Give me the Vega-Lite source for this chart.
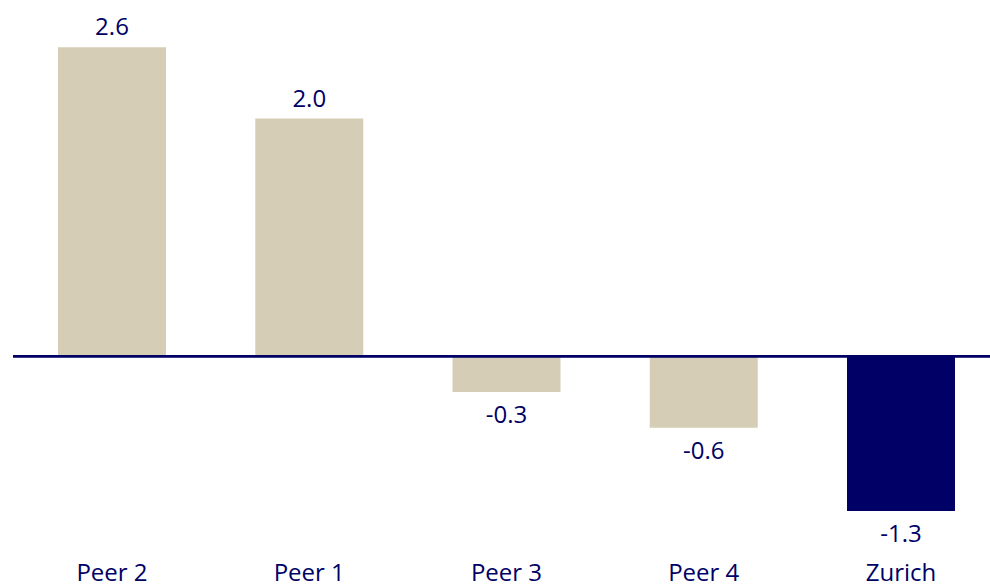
{
  "$schema": "https://vega.github.io/schema/vega-lite/v6.json",
  "autosize": {"type": "none"},
  "padding": {"left": 13, "top": 0, "right": 0, "bottom": 40},
  "width": 977,
  "height": 546,
  "background": "white",
  "config": {
    "view": {"stroke": null},
    "font": "Open Sans",
    "locale": {"number": {"decimal": ".", "thousands": ",", "grouping": [3], "currency": ["$", ""], "minus": "-"}}
  },
  "data": {"values": [
    {"name": "Peer 2", "value": 2.6, "type": "peer"},
    {"name": "Peer 1", "value": 2.0, "type": "peer"},
    {"name": "Peer 3", "value": -0.3, "type": "peer"},
    {"name": "Peer 4", "value": -0.6, "type": "peer"},
    {"name": "Zurich", "value": -1.3, "type": "zurich"}
  ]},
  "encoding": {
    "x": {
      "field": "name", "type": "nominal", "sort": null,
      "scale": {"paddingInner": 0.4525, "paddingOuter": 0.2028, "align": 0.5625},
      "axis": {"title": null, "domain": false, "ticks": false, "labelAngle": 0, "labelFontSize": 24, "labelColor": "#000066", "labelPadding": 15, "labelFont": "Open Sans"}
    }
  },
  "layer": [
    {
      "mark": {"type": "bar"},
      "encoding": {
        "y": {"field": "value", "type": "quantitative", "scale": {"domain": [-1.595, 2.997], "nice": false, "zero": true}, "axis": null},
        "color": {"field": "type", "type": "nominal", "scale": {"domain": ["peer", "zurich"], "range": ["#D5CDB5", "#000066"]}, "legend": null}
      }
    },
    {
      "mark": {"type": "rule", "color": "#000066", "strokeWidth": 2},
      "encoding": {"y": {"datum": 0, "type": "quantitative"}, "x": {"value": 0}, "x2": {"value": 977}}
    },
    {
      "transform": [{"filter": "datum.value >= 0"}],
      "mark": {"type": "text", "dy": -19, "fontSize": 24, "color": "#000066", "baseline": "middle", "font": "Open Sans"},
      "encoding": {"y": {"field": "value", "type": "quantitative"}, "text": {"field": "value", "type": "quantitative", "format": ".1f"}}
    },
    {
      "transform": [{"filter": "datum.value < 0"}],
      "mark": {"type": "text", "dy": 24, "fontSize": 24, "color": "#000066", "baseline": "middle", "font": "Open Sans"},
      "encoding": {"y": {"field": "value", "type": "quantitative"}, "text": {"field": "value", "type": "quantitative", "format": ".1f"}}
    }
  ]
}
